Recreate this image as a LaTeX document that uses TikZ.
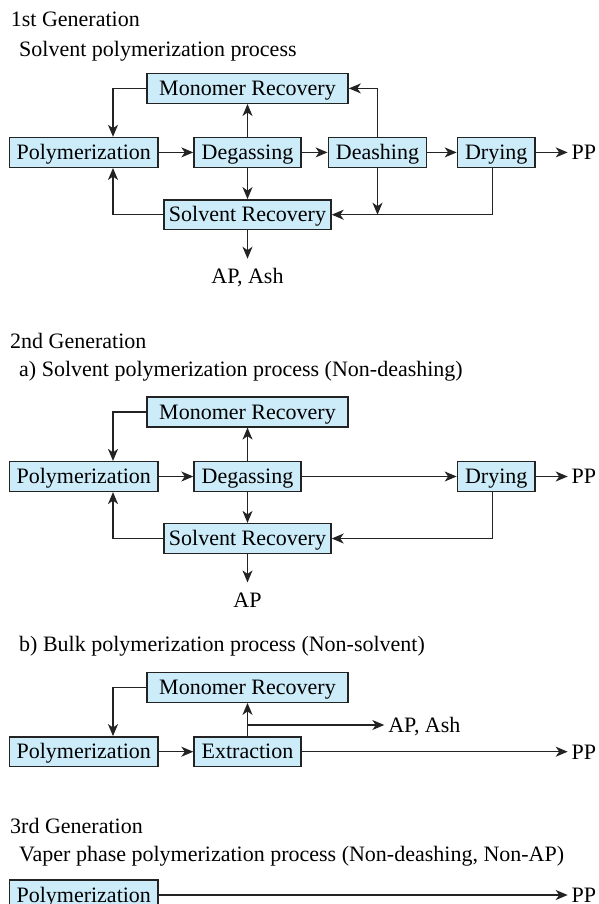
\documentclass[tikz,border=0pt]{standalone}
\usepackage{fontspec}
\setmainfont{Liberation Serif}
\usepackage{tikz}
\usetikzlibrary{arrows.meta}
\usepackage{xcolor}
\definecolor{ColA}{RGB}{205,236,249}
\definecolor{ColB}{RGB}{35,35,35}
\newcommand{\PlantFont}{\fontsize{22}{26}\selectfont}
\tikzstyle{Unit}=[rectangle,draw=ColB,fill=ColA,line width=1.4pt,inner sep=0pt,minimum height=29.8pt,
text height=16pt,text depth=2pt,font=\PlantFont]
\tikzstyle{Stream}=[inner sep=0pt,outer sep=4pt,text height=14.6pt,text depth=0pt,font=\PlantFont]
\tikzstyle{Title}=[anchor=base west,inner sep=0pt,font=\PlantFont]
\tikzstyle{Flow}=[ColB,line width=1.2pt,-{Stealth[length=12pt,width=10pt,inset=3.5pt]}]

\begin{document}
\begin{tikzpicture}[x=1pt,y=-1pt]
        \useasboundingbox(0,0)rectangle(599,904);
        % 1st generation
        \node[Title](t1)at(10.7,26.7){1st Generation};
        \node[Title](u1)at(19,56.7){Solvent polymerization process};
        \node[Unit,minimum width=148.5pt](p1)at(83.75,152.4){Polymerization};
        \node[Unit,minimum width=107pt](d1)at(247.5,152.4){Degassing};
        \node[Unit,minimum width=98.5pt](s1)at(377.5,152.4){Deashing};
        \node[Unit,minimum width=77.7pt](y1)at(496.2,152.4){Drying};
        \node[Unit,minimum width=201.3pt](m1)at(247.5,88.4){Monomer Recovery};
        \node[Unit,minimum width=167pt](r1)at(247.5,214.7){Solvent Recovery};
        \node[Stream,anchor=west](o1)at(567.7,152.4){PP};
        \node[Stream,anchor=base](a1)at(247.5,283.3){AP, Ash};
        \draw[Flow](p1)--(d1);
        \draw[Flow](d1)--(s1);
        \draw[Flow](s1)--(y1);
        \draw[Flow](y1)--(o1);
        \draw[Flow](d1)--(m1);
        \draw[Flow](d1)--(r1);
        \draw[Flow](m1)-|([xshift=29.25pt]p1.north);
        \draw[Flow](s1)|-(m1);
        \draw[Flow](s1)--(s1|-r1);
        \draw[Flow]([xshift=-3.5pt]y1.south)|-(r1);
        \draw[Flow](r1)-|([xshift=29.25pt]p1.south);
        \draw[Flow,shorten >=6pt](r1)--(a1);
        % 2nd generation, a)
        \node[Title](t2)at(10,348.3){2nd Generation};
        \node[Title](u2)at(19,376.7){a) Solvent polymerization process (Non-deashing)};
        \node[Unit,minimum width=148.5pt](p2)at(83.75,476.5){Polymerization};
        \node[Unit,minimum width=107pt](d2)at(247.5,476.5){Degassing};
        \node[Unit,minimum width=77.7pt](y2)at(496.2,476.5){Drying};
        \node[Unit,minimum width=201.3pt](m2)at(247.5,412){Monomer Recovery};
        \node[Unit,minimum width=167pt](r2)at(247.5,538.5){Solvent Recovery};
        \node[Stream,anchor=west](o2)at(567.7,476.5){PP};
        \node[Stream,anchor=base](a2)at(247.5,607){AP};
        \draw[Flow](p2)--(d2);
        \draw[Flow](d2)--(y2);
        \draw[Flow](y2)--(o2);
        \draw[Flow](d2)--(m2);
        \draw[Flow](d2)--(r2);
        \draw[Flow](m2)-|([xshift=29.25pt]p2.north);
        \draw[Flow]([xshift=-3.5pt]y2.south)|-(r2);
        \draw[Flow](r2)-|([xshift=29.25pt]p2.south);
        \draw[Flow,shorten >=6pt](r2)--(a2);
        % 2nd generation, b)
        \node[Title](u3)at(19,651.7){b) Bulk polymerization process (Non-solvent)};
        \node[Unit,minimum width=148.5pt](p3)at(83.75,751.7){Polymerization};
        \node[Unit,minimum width=107pt](e3)at(247.5,751.7){Extraction};
        \node[Unit,minimum width=201.3pt](m3)at(247.5,687.3){Monomer Recovery};
        \node[Stream,anchor=west](o3)at(567.7,751.7){PP};
        \node[Stream,anchor=west](a3)at(384.3,725){AP, Ash};
        \draw[Flow](p3)--(e3);
        \draw[Flow](e3)--(o3);
        \draw[Flow](e3)--(m3);
        \draw[Flow](m3)-|([xshift=29.25pt]p3.north);
        \draw[Flow](e3|-a3)--(a3);
        % 3rd generation
        \node[Title](t4)at(10,833.3){3rd Generation};
        \node[Title](u4)at(19,861.7){Vaper phase polymerization process (Non-deashing, Non-AP)};
        \node[Unit,minimum width=148.5pt](p4)at(83.75,895){Polymerization};
        \node[Stream,anchor=west](o4)at(567.7,895){PP};
        \draw[Flow](p4)--(o4);
    \end{tikzpicture}
\end{document}
